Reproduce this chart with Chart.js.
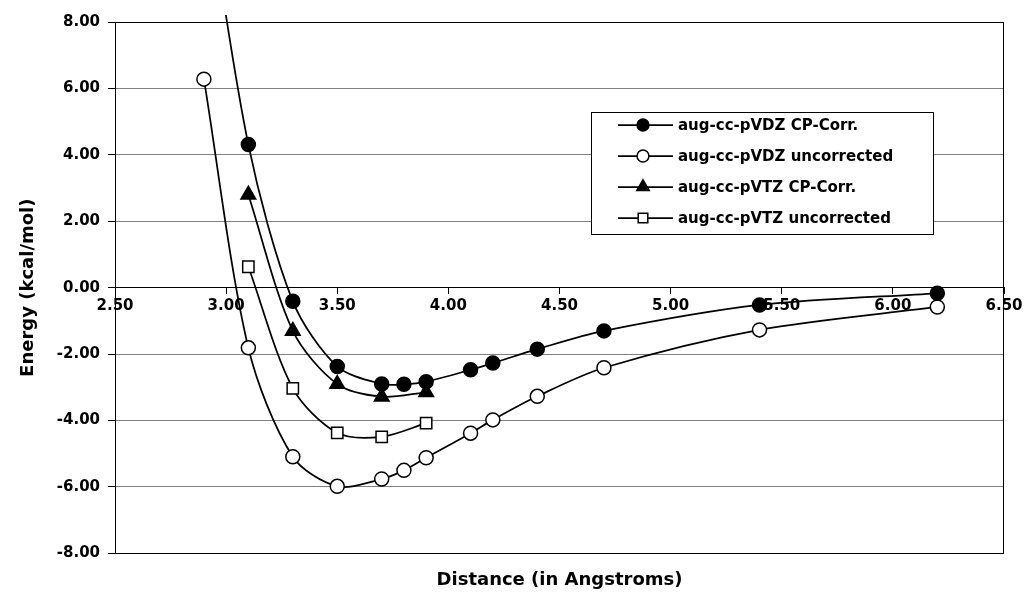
<!DOCTYPE html>
<html>
<head>
<meta charset="utf-8">
<script src="https://cdn.jsdelivr.net/npm/chart.js@4"></script>
<style>
  body { margin: 0; background: #fff; }
  #wrap { width: 1028px; height: 607px; }
</style>
</head>
<body>
<div id="wrap"><canvas id="mainChart" width="1028" height="607"></canvas></div>
<script>
// distances (Angstroms)
const distVDZ = [2.9, 3.1, 3.3, 3.5, 3.7, 3.8, 3.9, 4.1, 4.2, 4.4, 4.7, 5.4, 6.2];
const distVTZ = [3.1, 3.3, 3.5, 3.7, 3.9];

// energies (kcal/mol)
const vdzCP = [12.5, 4.31, -0.41, -2.37, -2.9, -2.91, -2.83, -2.47, -2.27, -1.85, -1.3, -0.52, -0.17];
const vdzUnc = [6.28, -1.81, -5.09, -5.98, -5.76, -5.5, -5.12, -4.38, -3.98, -3.27, -2.41, -1.27, -0.58];
const vtzCP = [2.8, -1.3, -2.9, -3.28, -3.15];
const vtzUnc = [0.63, -3.03, -4.37, -4.49, -4.08];

const seriesNames = [
  "aug-cc-pVDZ CP-Corr.",
  "aug-cc-pVDZ uncorrected",
  "aug-cc-pVTZ CP-Corr.",
  "aug-cc-pVTZ uncorrected",
];

const FONT = '"DejaVu Sans", Verdana, sans-serif';
Chart.defaults.font.family = FONT;
Chart.defaults.color = "#000";

function toPoints(xs, ys) {
  return ys.map((y, i) => ({ x: xs[i], y: y }));
}

function makeSet(name, xs, ys, style, fillCol, radius) {
  return {
    label: name,
    data: toPoints(xs, ys),
    borderColor: "#000",
    borderWidth: 1.75,
    pointStyle: style,
    pointRadius: radius,
    pointHoverRadius: radius,
    pointBackgroundColor: fillCol,
    pointBorderColor: "#000",
    pointBorderWidth: 1.5,
    tension: 0.3,
    fill: false,
    clip: { left: 2, top: 7, right: 8, bottom: 2 },
  };
}

// black frame round the plot area
const plotFrame = {
  id: "plotFrame",
  beforeDatasetsDraw(chart) {
    const a = chart.chartArea;
    const c = chart.ctx;
    c.save();
    c.strokeStyle = "#000";
    c.lineWidth = 1;
    c.strokeRect(Math.round(a.left) + 0.5, Math.round(a.top) + 0.5,
      Math.round(a.right - a.left) - 1, Math.round(a.bottom - a.top));
    c.restore();
  },
};

// legend box inside the plot, Excel style
const boxLegend = {
  id: "boxLegend",
  afterDatasetsDraw(chart) {
    const a = chart.chartArea;
    const c = chart.ctx;
    const x0 = a.left + 476, y0 = a.top + 90, w = 342, h = 122;
    c.save();
    c.fillStyle = "#fff";
    c.fillRect(x0, y0, w, h);
    c.strokeStyle = "#000";
    c.lineWidth = 1;
    c.strokeRect(x0 + 0.5, y0 + 0.5, w, h);
    chart.data.datasets.forEach((ds, i) => {
      const y = y0 + 13 + i * 31;
      c.strokeStyle = "#000";
      c.lineWidth = 1.75;
      c.beginPath();
      c.moveTo(x0 + 27, y);
      c.lineTo(x0 + 82, y);
      c.stroke();
      c.fillStyle = ds.pointBackgroundColor;
      c.strokeStyle = "#000";
      c.lineWidth = 1.5;
      Chart.helpers.drawPoint(c, {
        pointStyle: ds.pointStyle,
        radius: ds.pointRadius * 0.85,
        borderWidth: 1.5,
        rotation: 0,
      }, x0 + 52, y);
      c.fillStyle = "#000";
      c.font = "bold 15px " + FONT;
      c.textBaseline = "middle";
      c.textAlign = "left";
      c.fillText(ds.label, x0 + 87, y + 1);
    });
    c.restore();
  },
};

const ctx = document.getElementById("mainChart").getContext("2d");
const mainChart = new Chart(ctx, {
  type: "line",
  data: {
    datasets: [
      makeSet(seriesNames[0], distVDZ, vdzCP, "circle", "#000", 7),
      makeSet(seriesNames[1], distVDZ, vdzUnc, "circle", "#fff", 7),
      makeSet(seriesNames[2], distVTZ, vtzCP, "triangle", "#000", 8.5),
      makeSet(seriesNames[3], distVTZ, vtzUnc, "rect", "#fff", 8),
    ],
  },
  options: {
    responsive: false,
    animation: false,
    layout: { padding: { left: 0, right: 24, top: 22, bottom: 0 } },
    plugins: {
      legend: { display: false },
      tooltip: { enabled: false },
      title: {
        display: true,
        text: "Distance (in Angstroms)",
        position: "bottom",
        fullSize: false,
        color: "#000",
        font: { size: 18, weight: "bold" },
        padding: { top: 16, bottom: 16 },
      },
    },
    scales: {
      x: {
        type: "linear",
        position: { y: 0 },
        min: 2.5,
        max: 6.5,
        ticks: {
          stepSize: 0.5,
          autoSkip: false,
          maxRotation: 0,
          padding: 3,
          color: "#000",
          font: { size: 15, weight: "bold" },
          callback: (v) => Number(v).toFixed(2),
        },
        grid: { drawOnChartArea: false, drawTicks: true, tickLength: 6, color: "#000" },
        border: { color: "#000", width: 1 },
      },
      y: {
        type: "linear",
        position: "left",
        min: -8,
        max: 8,
        ticks: {
          stepSize: 2,
          padding: 8,
          color: "#000",
          font: { size: 15, weight: "bold" },
          callback: (v) => Number(v).toFixed(2),
        },
        grid: { color: "#808080", tickColor: "#000", tickLength: 7 },
        border: { color: "#000", width: 1 },
        title: {
          display: true,
          text: "Energy (kcal/mol)",
          color: "#000",
          font: { size: 18, weight: "bold" },
          padding: { top: 18, bottom: 0 },
        },
        afterFit(scale) {
          scale.width = 115;
        },
      },
    },
  },
  plugins: [plotFrame, boxLegend],
});
</script>
</body>
</html>
